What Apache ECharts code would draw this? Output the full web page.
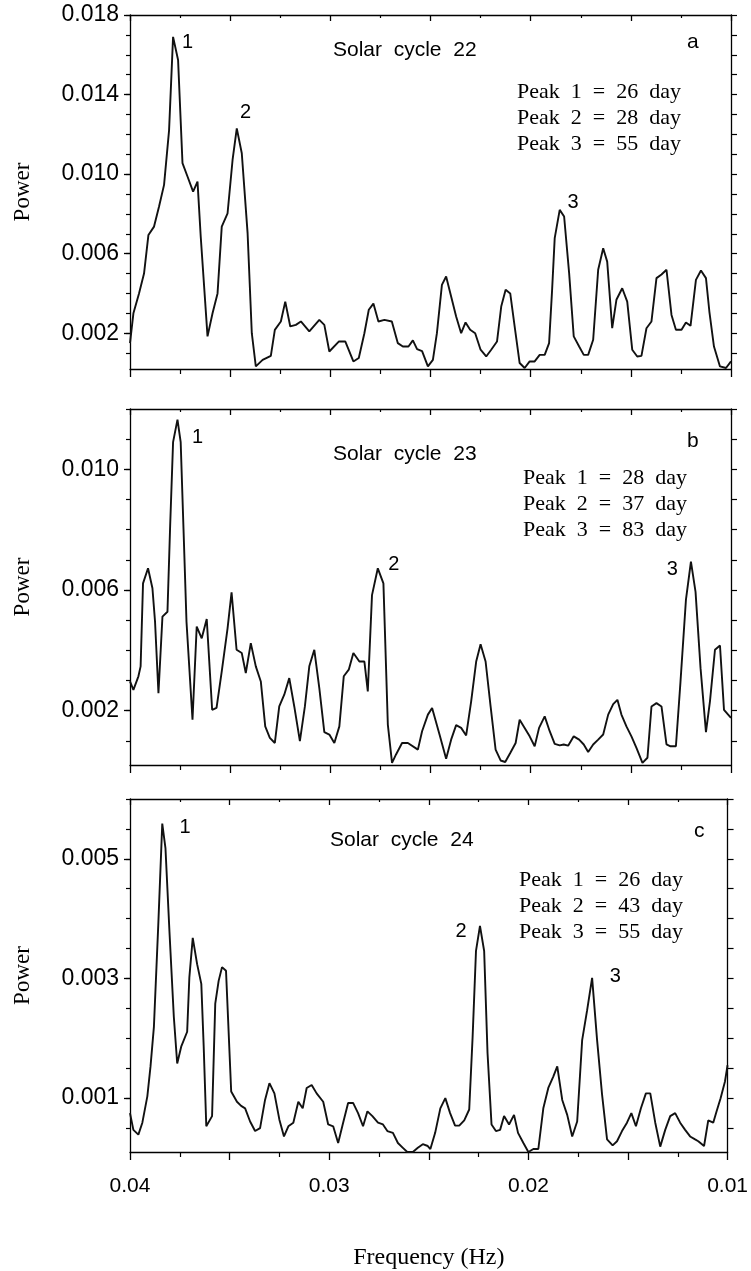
<!DOCTYPE html>
<html>
<head>
<meta charset="utf-8">
<script src="https://cdn.jsdelivr.net/npm/echarts@6/dist/echarts.min.js"></script>
<style>
  html, body { margin: 0; padding: 0; background: #fff; }
  #d { width: 751px; height: 1271px; }
</style>
</head>
<body>
<div id="d"></div>
<script>
// solar cycle 22 (panel a)
var freqA = [
  0.04000,0.03983,0.03955,0.03930,0.03908,0.03880,0.03855,0.03830,0.03805,0.03785,
  0.03760,0.03738,0.03713,0.03685,0.03663,0.03647,0.03613,0.03588,0.03563,0.03542,
  0.03513,0.03488,0.03467,0.03442,0.03413,0.03392,0.03372,0.03338,0.03297,0.03277,
  0.03247,0.03225,0.03200,0.03172,0.03147,0.03105,0.03055,0.03030,0.03005,0.02958,
  0.02925,0.02885,0.02858,0.02830,0.02808,0.02785,0.02760,0.02730,0.02693,0.02663,
  0.02638,0.02610,0.02588,0.02567,0.02542,0.02513,0.02488,0.02468,0.02443,0.02422,
  0.02397,0.02372,0.02347,0.02325,0.02302,0.02277,0.02250,0.02222,0.02197,0.02168,
  0.02147,0.02125,0.02102,0.02080,0.02055,0.02030,0.02005,0.01980,0.01955,0.01930,
  0.01908,0.01893,0.01880,0.01855,0.01833,0.01808,0.01785,0.01758,0.01735,0.01713,
  0.01688,0.01663,0.01638,0.01618,0.01593,0.01572,0.01543,0.01518,0.01493,0.01468,
  0.01447,0.01422,0.01397,0.01372,0.01347,0.01322,0.01297,0.01275,0.01247,0.01225,
  0.01202,0.01175,0.01150,0.01125,0.01108,0.01085,0.01055,0.01025,0.01000];
var powerA = [
  0.00150,0.00300,0.00400,0.00500,0.00694,0.00736,0.00837,0.00946,0.01220,0.01690,
  0.01574,0.01055,0.00988,0.00912,0.00962,0.00686,0.00184,0.00300,0.00400,0.00736,
  0.00803,0.01071,0.01230,0.01105,0.00703,0.00200,0.00033,0.00066,0.00086,0.00217,
  0.00259,0.00359,0.00234,0.00242,0.00259,0.00209,0.00267,0.00242,0.00108,0.00158,
  0.00158,0.00058,0.00075,0.00200,0.00318,0.00349,0.00259,0.00267,0.00259,0.00150,
  0.00133,0.00133,0.00164,0.00120,0.00110,0.00033,0.00066,0.00200,0.00443,0.00485,
  0.00385,0.00284,0.00200,0.00254,0.00217,0.00200,0.00117,0.00083,0.00117,0.00158,
  0.00334,0.00418,0.00400,0.00234,0.00050,0.00025,0.00058,0.00058,0.00091,0.00091,
  0.00150,0.00418,0.00678,0.00820,0.00787,0.00502,0.00184,0.00133,0.00091,0.00091,
  0.00167,0.00519,0.00627,0.00560,0.00225,0.00368,0.00426,0.00359,0.00117,0.00083,
  0.00086,0.00225,0.00259,0.00477,0.00495,0.00519,0.00292,0.00217,0.00217,0.00254,
  0.00237,0.00468,0.00515,0.00477,0.00309,0.00133,0.00033,0.00025,0.00058];

// solar cycle 23 (panel b)
var freqB = [
  0.04000,0.03983,0.03958,0.03947,0.03935,0.03910,0.03888,0.03875,0.03858,0.03838,
  0.03813,0.03800,0.03785,0.03763,0.03747,0.03733,0.03718,0.03688,0.03667,0.03642,
  0.03617,0.03590,0.03568,0.03542,0.03513,0.03493,0.03468,0.03442,0.03422,0.03397,
  0.03372,0.03347,0.03325,0.03302,0.03277,0.03255,0.03230,0.03205,0.03180,0.03152,
  0.03127,0.03105,0.03080,0.03055,0.03030,0.03005,0.02980,0.02955,0.02933,0.02908,
  0.02885,0.02855,0.02830,0.02813,0.02792,0.02763,0.02735,0.02713,0.02692,0.02672,
  0.02642,0.02613,0.02563,0.02542,0.02513,0.02492,0.02455,0.02422,0.02397,0.02372,
  0.02347,0.02322,0.02297,0.02272,0.02250,0.02225,0.02200,0.02175,0.02150,0.02127,
  0.02102,0.02075,0.02055,0.02030,0.02005,0.01980,0.01958,0.01930,0.01905,0.01880,
  0.01855,0.01835,0.01813,0.01785,0.01758,0.01735,0.01713,0.01688,0.01663,0.01638,
  0.01613,0.01588,0.01567,0.01547,0.01522,0.01497,0.01472,0.01442,0.01417,0.01397,
  0.01372,0.01347,0.01322,0.01302,0.01275,0.01252,0.01225,0.01200,0.01177,0.01152,
  0.01125,0.01105,0.01080,0.01055,0.01035,0.01000];
var powerB = [
  0.00297,0.00269,0.00314,0.00347,0.00622,0.00672,0.00606,0.00495,0.00258,0.00512,
  0.00528,0.00804,0.01090,0.01165,0.01090,0.00804,0.00495,0.00170,0.00479,0.00440,
  0.00504,0.00203,0.00209,0.00330,0.00473,0.00592,0.00402,0.00391,0.00325,0.00424,
  0.00347,0.00297,0.00148,0.00110,0.00093,0.00214,0.00253,0.00308,0.00214,0.00099,
  0.00214,0.00347,0.00402,0.00275,0.00129,0.00121,0.00093,0.00148,0.00314,0.00336,
  0.00391,0.00363,0.00363,0.00264,0.00583,0.00672,0.00622,0.00154,0.00027,0.00055,
  0.00093,0.00093,0.00071,0.00132,0.00187,0.00209,0.00121,0.00041,0.00104,0.00152,
  0.00143,0.00118,0.00231,0.00363,0.00420,0.00363,0.00214,0.00071,0.00035,0.00030,
  0.00060,0.00093,0.00170,0.00143,0.00115,0.00082,0.00143,0.00181,0.00132,0.00090,
  0.00085,0.00088,0.00084,0.00115,0.00104,0.00088,0.00063,0.00088,0.00104,0.00121,
  0.00187,0.00222,0.00236,0.00187,0.00148,0.00115,0.00077,0.00027,0.00044,0.00214,
  0.00225,0.00214,0.00088,0.00082,0.00082,0.00297,0.00567,0.00694,0.00594,0.00341,
  0.00129,0.00231,0.00402,0.00416,0.00203,0.00176];

// solar cycle 24 (panel c)
var freqC = [
  0.04000,0.03983,0.03958,0.03938,0.03913,0.03897,0.03880,0.03858,0.03838,0.03822,
  0.03802,0.03780,0.03763,0.03743,0.03713,0.03702,0.03685,0.03663,0.03642,0.03630,
  0.03617,0.03588,0.03572,0.03555,0.03538,0.03518,0.03492,0.03463,0.03442,0.03422,
  0.03397,0.03372,0.03347,0.03322,0.03300,0.03275,0.03250,0.03227,0.03205,0.03180,
  0.03155,0.03133,0.03113,0.03088,0.03063,0.03030,0.03005,0.02980,0.02955,0.02930,
  0.02905,0.02880,0.02855,0.02830,0.02808,0.02783,0.02755,0.02730,0.02708,0.02680,
  0.02655,0.02630,0.02608,0.02580,0.02555,0.02530,0.02505,0.02492,0.02468,0.02442,
  0.02417,0.02393,0.02368,0.02347,0.02322,0.02297,0.02280,0.02263,0.02243,0.02222,
  0.02205,0.02185,0.02163,0.02142,0.02122,0.02097,0.02072,0.02052,0.02025,0.02000,
  0.01975,0.01950,0.01925,0.01900,0.01875,0.01855,0.01830,0.01805,0.01780,0.01755,
  0.01730,0.01705,0.01680,0.01655,0.01630,0.01605,0.01577,0.01555,0.01530,0.01505,
  0.01483,0.01460,0.01435,0.01410,0.01388,0.01363,0.01338,0.01313,0.01288,0.01263,
  0.01238,0.01213,0.01188,0.01163,0.01147,0.01118,0.01097,0.01072,0.01055,0.01035,
  0.01013,0.01000];
var powerC = [
  0.00075,0.00047,0.00039,0.00059,0.00103,0.00153,0.00219,0.00390,0.00559,0.00518,
  0.00379,0.00236,0.00158,0.00186,0.00211,0.00302,0.00368,0.00324,0.00291,0.00186,
  0.00053,0.00070,0.00258,0.00296,0.00319,0.00313,0.00111,0.00094,0.00087,0.00083,
  0.00061,0.00045,0.00050,0.00097,0.00125,0.00108,0.00064,0.00036,0.00053,0.00059,
  0.00094,0.00083,0.00117,0.00122,0.00108,0.00094,0.00056,0.00053,0.00025,0.00059,
  0.00092,0.00092,0.00075,0.00053,0.00078,0.00070,0.00059,0.00056,0.00045,0.00042,
  0.00025,0.00017,0.00010,0.00010,0.00017,0.00023,0.00020,0.00015,0.00042,0.00083,
  0.00100,0.00075,0.00054,0.00054,0.00063,0.00081,0.00202,0.00346,0.00388,0.00346,
  0.00175,0.00056,0.00045,0.00047,0.00070,0.00056,0.00072,0.00042,0.00025,0.00010,
  0.00015,0.00015,0.00083,0.00117,0.00136,0.00153,0.00097,0.00072,0.00036,0.00061,
  0.00197,0.00247,0.00301,0.00197,0.00106,0.00031,0.00021,0.00028,0.00045,0.00059,
  0.00075,0.00053,0.00083,0.00108,0.00108,0.00059,0.00019,0.00047,0.00070,0.00075,
  0.00059,0.00047,0.00036,0.00031,0.00028,0.00020,0.00063,0.00059,0.00078,0.00100,
  0.00128,0.00155];

// axis ranges and tick labels
var yMinA = 0.0002, yMaxA = 0.018;
var yMinB = 0.0002, yMaxB = 0.012;
var yMinC = 0.0001, yMaxC = 0.006;
var yLabelsA = [0.002, 0.006, 0.010, 0.014, 0.018];
var yLabelsB = [0.002, 0.006, 0.010];
var yLabelsC = [0.001, 0.003, 0.005];
var yTicksA = [0.001,0.002,0.003,0.004,0.005,0.006,0.007,0.008,0.009,0.010,0.011,0.012,0.013,0.014,0.015,0.016,0.017,0.018];
var yTicksB = [0.001,0.002,0.003,0.004,0.005,0.006,0.007,0.008,0.009,0.010,0.011,0.012];
var yTicksC = [0.0005,0.001,0.0015,0.002,0.0025,0.003,0.0035,0.004,0.0045,0.005,0.0055,0.006];
var xLabels = [0.04, 0.03, 0.02, 0.01];

// peak numbers, placed in data space next to each peak
var peaksA = [[0.03713, 0.01664, '1'], [0.03423, 0.01308, '2'], [0.01788, 0.00855, '3']];
var peaksB = [[0.03663, 0.01107, '1'], [0.02683, 0.00684, '2'], [0.01293, 0.00668, '3']];
var peaksC = [[0.03723, 0.00552, '1'], [0.02338, 0.00378, '2'], [0.01563, 0.00303, '3']];

var titles = ['Solar  cycle  22', 'Solar  cycle  23', 'Solar  cycle  24'];
var letters = ['a', 'b', 'c'];
var peakTexts = [
  ['Peak  1  =  26  day', 'Peak  2  =  28  day', 'Peak  3  =  55  day'],
  ['Peak  1  =  28  day', 'Peak  2  =  37  day', 'Peak  3  =  83  day'],
  ['Peak  1  =  26  day', 'Peak  2  =  43  day', 'Peak  3  =  55  day']
];

var SANS = '"Liberation Sans", Arial, Helvetica, sans-serif';
var SERIF = '"Liberation Serif", "Times New Roman", serif';

var panels = [
  {f: freqA, p: powerA, min: yMinA, max: yMaxA, lab: yLabelsA, tk: yTicksA, pk: peaksA, top: 15, h: 354},
  {f: freqB, p: powerB, min: yMinB, max: yMaxB, lab: yLabelsB, tk: yTicksB, pk: peaksB, top: 409, h: 356},
  {f: freqC, p: powerC, min: yMinC, max: yMaxC, lab: yLabelsC, tk: yTicksC, pk: peaksC, top: 799, h: 355}
];

var myChart = echarts.init(document.getElementById('d'));
var option = {
  animation: false,
  backgroundColor: '#fff',
  grid: [], xAxis: [], yAxis: [], series: [], graphic: []
};

var axLine = {show: true, onZero: false, lineStyle: {color: '#000', width: 1.3}};

for (var k = 0; k < panels.length; k++) {
  var pn = panels[k];
  var last = (k === panels.length - 1);
  option.grid.push({left: 130, width: 601, top: pn.top, height: pn.h});

  // bottom x axis (ticks outward)
  option.xAxis.push({
    type: 'value', gridIndex: k, position: 'bottom',
    min: 0.01, max: 0.04, interval: 0.005, inverse: true,
    axisLine: axLine,
    axisTick: {show: true, length: 8, lineStyle: {color: '#000', width: 1.3}},
    minorTick: {show: true, splitNumber: 2, length: 5, lineStyle: {color: '#000', width: 1.2}},
    splitLine: {show: false},
    axisLabel: {
      show: last, margin: 24, color: '#000', fontSize: 21, fontFamily: SANS,
      showMinLabel: true, showMaxLabel: true,
      formatter: function (v) {
        for (var i = 0; i < xLabels.length; i++) {
          if (Math.abs(v - xLabels[i]) < 1e-7) return xLabels[i].toFixed(2);
        }
        return '';
      }
    },
    name: last ? 'Frequency (Hz)' : '',
    nameLocation: 'middle', nameGap: 94,
    nameTextStyle: {color: '#000', fontSize: 24, fontFamily: SERIF}
  });
  // top x axis (ticks inward)
  option.xAxis.push({
    type: 'value', gridIndex: k, position: 'top',
    min: 0.01, max: 0.04, interval: 0.005, inverse: true,
    axisLine: axLine,
    axisTick: {show: true, inside: true, length: 6, lineStyle: {color: '#000', width: 1.3}},
    minorTick: {show: true, splitNumber: 2, length: 3, lineStyle: {color: '#000', width: 1.2}},
    splitLine: {show: false},
    axisLabel: {show: false}
  });

  // left y axis with labels
  option.yAxis.push({
    type: 'value', gridIndex: k, position: 'left', min: pn.min, max: pn.max,
    axisLine: axLine,
    axisTick: {show: true, length: 6, customValues: pn.lab, lineStyle: {color: '#000', width: 1.3}},
    axisLabel: {
      show: true, customValues: pn.lab, margin: 11, color: '#000', fontSize: 23, fontFamily: SANS,
      formatter: function (v) { return v.toFixed(3); }
    },
    splitLine: {show: false},
    name: 'Power', nameLocation: 'middle', nameRotate: 90, nameGap: 96,
    nameTextStyle: {color: '#000', fontSize: 23, fontFamily: SERIF}
  });
  // left minor ticks
  option.yAxis.push({
    type: 'value', gridIndex: k, position: 'left', min: pn.min, max: pn.max,
    axisLine: {show: false},
    axisTick: {show: true, length: 4, customValues: pn.tk, lineStyle: {color: '#000', width: 1.2}},
    axisLabel: {show: false},
    splitLine: {show: false}
  });
  // right axis, ticks outward
  option.yAxis.push({
    type: 'value', gridIndex: k, position: 'right', min: pn.min, max: pn.max,
    axisLine: axLine,
    axisTick: {show: true, length: 6, customValues: pn.tk, lineStyle: {color: '#000', width: 1.2}},
    axisLabel: {show: false},
    splitLine: {show: false}
  });

  var pts = [];
  for (var i = 0; i < pn.f.length; i++) pts.push([pn.f[i], pn.p[i]]);
  var mp = [];
  for (var j = 0; j < pn.pk.length; j++) {
    mp.push({name: pn.pk[j][2], coord: [pn.pk[j][0], pn.pk[j][1]]});
  }
  option.series.push({
    type: 'line', xAxisIndex: 2 * k, yAxisIndex: 3 * k,
    data: pts, showSymbol: false, symbol: 'none', smooth: false,
    lineStyle: {color: '#111', width: 1.9},
    markPoint: {
      symbol: 'circle', symbolSize: 1, itemStyle: {color: 'rgba(0,0,0,0)'},
      label: {show: true, position: 'inside', color: '#000', fontSize: 20, fontFamily: SANS,
              formatter: function (p) { return p.name; }},
      data: mp
    }
  });
}

// panel texts
var titleTop = [40, 444, 830], titleLeft = [333, 333, 330];
var letterTop = [32, 431, 821], letterLeft = [687, 687, 694];
var peakTop = [79, 465, 867], peakLeft = [517, 523, 519];
for (var t = 0; t < 3; t++) {
  option.graphic.push({type: 'text', left: titleLeft[t], top: titleTop[t],
    style: {text: titles[t], fill: '#000', font: '21px ' + SANS}});
  option.graphic.push({type: 'text', left: letterLeft[t], top: letterTop[t],
    style: {text: letters[t], fill: '#000', font: '21px ' + SANS}});
  option.graphic.push({type: 'text', left: peakLeft[t], top: peakTop[t],
    style: {text: peakTexts[t].join('\n'), fill: '#000', font: '22px ' + SERIF, lineHeight: 26}});
}

option && myChart.setOption(option);
window.addEventListener('resize', function () { myChart.resize(); });
</script>
</body>
</html>
